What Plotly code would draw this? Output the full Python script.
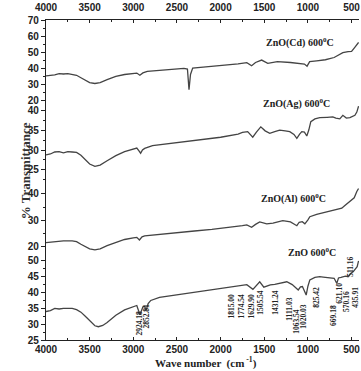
import plotly.graph_objects as go

# ---------------- data ----------------
cd_x = [4000, 3900, 3850, 3800, 3750, 3700, 3650, 3600, 3550, 3500, 3440, 3380, 3300, 3200, 3100, 3000,
        2960, 2925, 2890, 2840, 2700, 2500, 2420, 2380, 2362, 2345, 2320, 2200, 2000, 1800, 1700, 1645,
        1600, 1530, 1460, 1350, 1200, 1100, 1040, 1010, 980, 900, 800, 700, 650, 600, 540, 500, 470, 440, 420]
cd_y = [35.2, 35.8, 36.6, 36.3, 36.5, 36.2, 35.5, 34.0, 32.4, 31.0, 30.4, 31.0, 32.8, 34.8, 36.0, 36.8,
        36.9, 35.5, 37.0, 38.0, 38.6, 39.4, 39.8, 39.4, 26.5, 36.0, 40.0, 40.6, 41.4, 42.6, 43.4, 41.5,
        43.5, 45.0, 43.0, 44.0, 43.5, 42.9, 42.5, 41.2, 44.0, 44.5, 45.2, 46.6, 48.0, 49.6, 50.3, 50.4, 52.5, 55.0, 56.0]

ag_x = [4000, 3950, 3900, 3850, 3800, 3750, 3700, 3650, 3600, 3550, 3500, 3440, 3380, 3300, 3200, 3100,
        3000, 2960, 2935, 2916, 2895, 2870, 2780, 2600, 2400, 2200, 2000, 1800, 1750, 1690, 1632, 1590,
        1540, 1490, 1437, 1380, 1323, 1260, 1208, 1160, 1127, 1095, 1070, 1040, 1013, 990, 967, 920,
        864, 780, 715, 680, 635, 600, 560, 519, 490, 462, 440, 420]
ag_y = [28.8, 29.0, 29.5, 29.6, 29.3, 29.6, 29.5, 29.4, 28.7, 27.5, 26.5, 25.9, 26.2, 27.3, 28.6, 29.6,
        30.3, 30.5, 29.8, 29.2, 30.0, 30.4, 31.1, 31.6, 32.1, 32.6, 33.2, 34.0, 34.4, 34.6, 33.2, 34.5,
        35.8, 34.8, 34.2, 34.6, 35.0, 34.8, 34.6, 33.9, 32.9, 34.0, 34.6, 34.5, 33.5, 35.0, 37.1, 37.8,
        38.1, 38.2, 38.3, 38.0, 37.8, 38.7, 38.0, 38.1, 38.5, 38.7, 39.5, 41.0]

al_x = [4000, 3900, 3800, 3700, 3650, 3600, 3550, 3500, 3440, 3380, 3300, 3200, 3100, 3000, 2960, 2930,
        2900, 2870, 2700, 2500, 2300, 2100, 1900, 1750, 1700, 1645, 1600, 1552, 1472, 1400, 1288, 1200,
        1127, 1100, 1065, 1035, 1000, 978, 900, 800, 700, 669, 640, 612, 580, 540, 500, 470, 440, 420]
al_y = [21.6, 22.0, 22.3, 22.3, 22.0, 21.0, 20.0, 19.3, 18.9, 19.3, 20.5, 21.8, 22.8, 23.4, 23.6, 22.6,
        23.8, 24.2, 24.8, 25.4, 26.0, 26.6, 27.3, 28.0, 28.3, 27.4, 28.5, 29.4, 28.7, 29.0, 29.9, 29.4,
        28.0, 29.3, 29.5, 28.7, 30.2, 31.4, 32.3, 33.0, 33.8, 34.0, 34.4, 34.6, 35.5, 36.5, 37.7, 38.5, 40.9, 42.0]

zn_x = [4000, 3950, 3900, 3850, 3800, 3750, 3700, 3650, 3600, 3550, 3500, 3440, 3400, 3350, 3300, 3200,
        3100, 3000, 2960, 2924, 2890, 2870, 2852, 2830, 2800, 2700, 2500, 2300, 2100, 1900, 1815, 1774,
        1700, 1630, 1590, 1552, 1505, 1460, 1431, 1380, 1300, 1242, 1180, 1140, 1111, 1085, 1063, 1040,
        1020, 1000, 978, 920, 864, 825, 760, 700, 669, 650, 621, 600, 570, 540, 511, 480, 436, 420]
zn_y = [34.0, 34.3, 35.0, 34.8, 35.0, 35.0, 35.0, 34.6, 33.8, 32.5, 31.2, 29.5, 29.2, 29.6, 30.5, 32.8,
        34.5, 35.6, 35.9, 33.0, 35.5, 35.6, 34.5, 36.5, 37.5, 38.5, 39.3, 40.2, 40.8, 41.6, 42.1, 42.2,
        42.5, 41.0, 42.2, 43.4, 41.7, 42.2, 42.4, 42.6, 43.0, 43.4, 42.5, 41.5, 40.8, 41.8, 41.9, 40.5,
        39.2, 42.0, 44.0, 44.8, 45.0, 44.9, 44.6, 44.5, 42.9, 44.6, 44.8, 45.0, 45.2, 45.0, 46.0, 46.6, 48.2, 50.0]

peak_labels = ["2924.18", "2852.81", "1815.00", "1774.54", "1629.90", "1505.54", "1431.24", "1111.03",
               "1063.54", "1020.03", "825.42", "669.18", "621.10", "570.16", "511.16", "435.91"]
# where each label's text sits on the wavenumber axis, and its centre height (% T, bottom panel)
peak_label_x = [2928, 2847, 1873, 1758, 1643, 1552, 1380, 1208, 1139, 1047, 898, 714, 634, 565, 507, 452]
peak_label_y = [30.4, 32.6, 35.8, 35.8, 35.8, 37.0, 37.0, 34.8, 31.0, 32.6, 38.6, 32.9, 39.9, 37.3, 48.1, 38.6]

panel_names = ["ZnO(Cd) 600<sup>0</sup>C", "ZnO(Ag) 600<sup>0</sup>C", "ZnO(Al) 600<sup>0</sup>C", "ZnO 600<sup>0</sup>C"]
x_ticks = [4000, 3500, 3000, 2500, 2000, 1500, 1000, 500]
x_minor = [3750, 3250, 2750, 2250, 1750, 1250, 750]

# ---------------- figure ----------------
W, H = 361, 371
ml, mr, mt, mb = 46, 2, 20, 31
line_col = "#444444"

panels = [
    dict(x=cd_x, y=cd_y, dom=[0.734, 1.0], rng=[16.9, 70], dt=10, minor=5),
    dict(x=ag_x, y=ag_y, dom=[0.494, 0.734], rng=[22.0, 41.25], dt=5, minor=2.5),
    dict(x=al_x, y=al_y, dom=[0.266, 0.494], rng=[17.0, 44.5], dt=10, minor=5),
    dict(x=zn_x, y=zn_y, dom=[0.0, 0.266], rng=[25.0, 51.9], dt=5, minor=2.5),
]

fig = go.Figure()
tickfont = dict(family="Liberation Sans", size=10, color="#222", weight="bold")

for i, p in enumerate(panels):
    yname = "y" if i == 0 else f"y{i+1}"
    fig.add_trace(go.Scatter(x=p["x"], y=p["y"], mode="lines", xaxis="x", yaxis=yname,
                             line=dict(color=line_col, width=1.3), showlegend=False,
                             hoverinfo="skip"))
    key = "yaxis" if i == 0 else f"yaxis{i+1}"
    fig.layout[key] = dict(domain=p["dom"], range=p["rng"], anchor="x", showline=True,
                           linecolor="#222", linewidth=1.2, ticks="outside", ticklen=4,
                           tickwidth=1, tickcolor="#222", dtick=p["dt"], tick0=0,
                           tickfont=tickfont, showgrid=False, zeroline=False,
                           minor=dict(dtick=p["minor"], tick0=0, ticks="outside", ticklen=2,
                                      tickcolor="#222", showgrid=False))
    rkey = f"yaxis{i+5}"
    fig.layout[rkey] = dict(domain=p["dom"], range=p["rng"], anchor="x", overlaying=yname,
                            side="right", showline=True, linecolor="#222", linewidth=1.2,
                            ticks="inside", ticklen=3, tickcolor="#222", dtick=p["minor"], tick0=0,
                            showticklabels=False, showgrid=False, zeroline=False)

fig.update_layout(
    width=W, height=H, margin=dict(l=ml, r=mr, t=mt, b=mb),
    paper_bgcolor="white", plot_bgcolor="white", showlegend=False,
    xaxis=dict(range=[4000, 415], anchor="y4", domain=[0, 1], showline=True, linecolor="#222",
               linewidth=1.2, ticks="inside", ticklen=3, tickcolor="#222", tickvals=x_ticks,
               tickfont=tickfont, showgrid=False, zeroline=False,
               minor=dict(tickvals=x_minor, ticks="inside", ticklen=2, tickcolor="#222",
                          showgrid=False)),
    xaxis2=dict(range=[4000, 415], overlaying="x", side="top", anchor="y", showline=True,
                linecolor="#222", linewidth=1.2, ticks="inside", ticklen=3, tickcolor="#222",
                tickvals=x_ticks, tickfont=tickfont, showgrid=False, zeroline=False,
                ticklabelstandoff=4,
                minor=dict(tickvals=x_minor, ticks="inside", ticklen=2, tickcolor="#222",
                           showgrid=False)),
)
fig.add_trace(go.Scatter(x=[4000], y=[None], xaxis="x2", yaxis="y", showlegend=False,
                         hoverinfo="skip"))

serif = "Liberation Serif"
label_pos = [(1093, 0.955), (1127, 0.765), (1170, 0.443), (950, 0.25)]
for name, (lx, ly) in zip(panel_names, label_pos):
    fig.add_annotation(x=lx, y=ly, xref="x", yref="paper", text=name, showarrow=False,
                       font=dict(family=serif, size=10, color="#222", weight="bold"))

for t, px, py in zip(peak_labels, peak_label_x, peak_label_y):
    fig.add_annotation(x=px, y=py, xref="x", yref="y4", text=t, showarrow=False, textangle=-90,
                       font=dict(family=serif, size=7.5, color="#222", weight="bold"))

fig.add_annotation(x=-0.095, y=0.53, xref="paper", yref="paper", text="% Transmittance",
                   showarrow=False, textangle=-90,
                   font=dict(family=serif, size=13, color="#333", weight="bold"))
fig.add_annotation(x=0.51, y=-0.07, xref="paper", yref="paper", yanchor="middle",
                   text="Wave number  (cm<sup> -1</sup>)", showarrow=False,
                   font=dict(family=serif, size=11, color="#222", weight="bold"))

fig.write_html("out.html")
